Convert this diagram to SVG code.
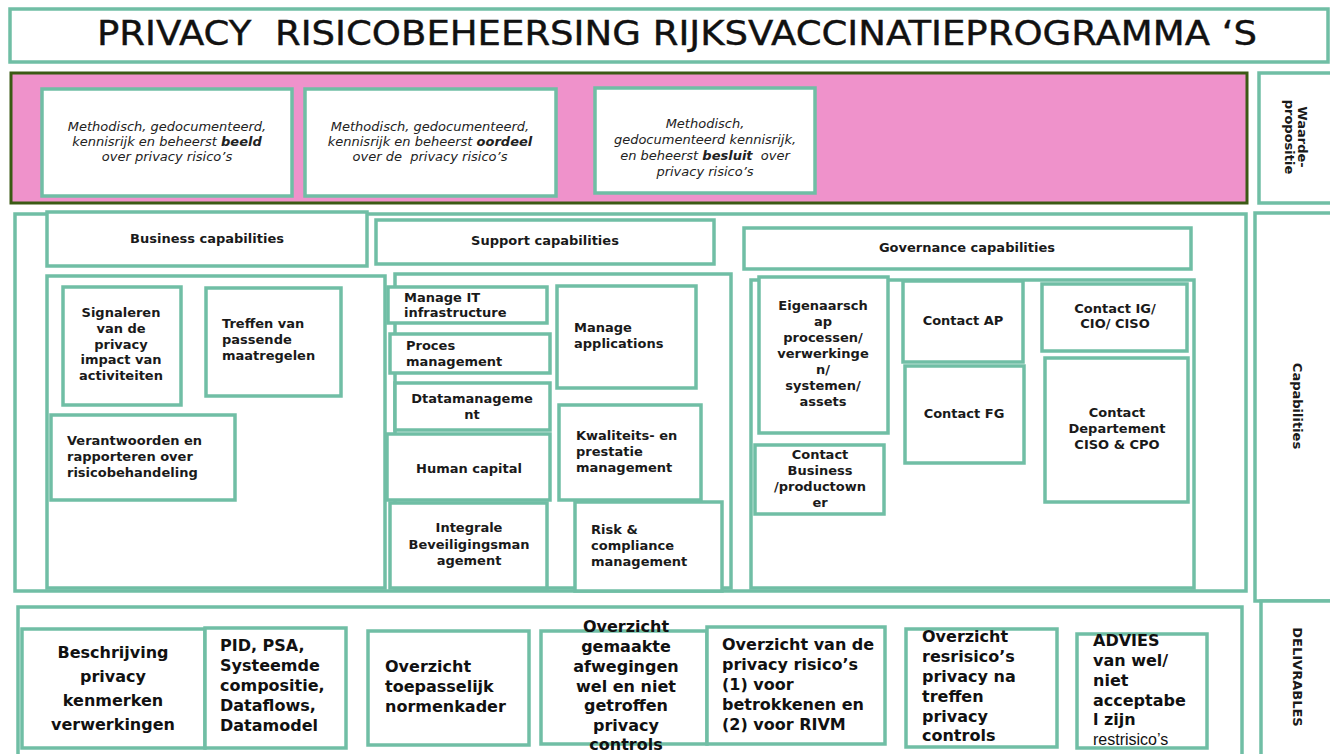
<svg xmlns="http://www.w3.org/2000/svg" width="1330" height="754" viewBox="0 0 1330 754">
<style>
.b{fill:#fff;stroke:#70bea5;stroke-width:3.5}
.t{font-family:"DejaVu Sans",Verdana,sans-serif;font-weight:bold;font-size:13px;fill:#1a1a1a}
.c{text-anchor:middle}
.i{font-family:"DejaVu Sans",Verdana,sans-serif;font-style:italic;font-size:13px;fill:#222;text-anchor:middle}
.d{font-family:"DejaVu Sans",Verdana,sans-serif;font-weight:bold;font-size:16px;fill:#111}
.n{font-family:"Liberation Sans",Arial,sans-serif;font-weight:normal;font-size:16px;fill:#111}
</style>
<rect width="1330" height="754" fill="#fff"/>
<g id="title">
<rect class="b" x="10" y="9" width="1318" height="53"/>
<text x="97" y="45" xml:space="preserve" font-family="DejaVu Sans,Verdana,sans-serif" font-size="33" fill="#111" stroke="#111" stroke-width="0.4" textLength="1160" lengthAdjust="spacingAndGlyphs">PRIVACY  RISICOBEHEERSING RIJKSVACCINATIEPROGRAMMA ‘S</text>
</g>
<g id="waardepropositie">
<rect x="11" y="73" width="1236" height="130" fill="#ef92cb" stroke="#3b5a14" stroke-width="3"/>
<g id="vp1"><rect class="b" x="42" y="89" width="250" height="107"/>
<text class="i" x="167" y="131">Methodisch, gedocumenteerd,</text>
<text class="i" x="167" y="146">kennisrijk en beheerst <tspan font-weight="bold">beeld</tspan></text>
<text class="i" x="167" y="161">over privacy risico’s</text></g>
<g id="vp2"><rect class="b" x="305" y="89" width="251" height="107"/>
<text class="i" x="430" y="131">Methodisch, gedocumenteerd,</text>
<text class="i" x="430" y="146">kennisrijk en beheerst <tspan font-weight="bold">oordeel</tspan></text>
<text class="i" x="430" y="161" xml:space="preserve">over de  privacy risico’s</text></g>
<g id="vp3"><rect class="b" x="595" y="88" width="220" height="105"/>
<text class="i" x="705" y="128">Methodisch,</text>
<text class="i" x="705" y="144">gedocumenteerd kennisrijk,</text>
<text class="i" x="705" y="160" xml:space="preserve">en beheerst <tspan font-weight="bold">besluit</tspan>  over</text>
<text class="i" x="705" y="176">privacy risico’s</text></g>
</g>
<g id="side-labels">
<g id="lbl-waarde"><rect class="b" x="1259" y="73" width="75" height="130"/>
<text class="t c" font-size="11" transform="translate(1295,137) rotate(90)"><tspan x="0" y="-3">Waarde-</tspan><tspan x="0" y="10">propositie</tspan></text></g>
<g id="lbl-cap"><rect class="b" x="1255" y="213" width="79" height="388"/>
<text class="t c" font-size="11.5" transform="translate(1293,406) rotate(90)">Capabilities</text></g>
<g id="lbl-deliv"><rect class="b" x="1261" y="601" width="73" height="160"/>
<text class="t c" font-size="12" transform="translate(1293,677) rotate(90)">DELIVRABLES</text></g>
</g>
<g id="capabilities">
<rect class="b" x="15" y="214" width="1231" height="377"/>
<g id="business">
<rect class="b" x="47" y="276" width="338" height="312"/>
<g id="bc-header"><rect class="b" x="47" y="212" width="320" height="54"/>
<text class="t c" x="207" y="243">Business capabilities</text></g>
<g id="signaleren"><rect class="b" x="63" y="287" width="118" height="118"/>
<text class="t c" x="121" y="317">Signaleren</text><text class="t c" x="121" y="333">van de</text><text class="t c" x="121" y="349">privacy</text><text class="t c" x="121" y="364">impact van</text><text class="t c" x="121" y="380">activiteiten</text></g>
<g id="treffen"><rect class="b" x="206" y="288" width="135" height="108"/>
<text class="t" x="222" y="328">Treffen van</text><text class="t" x="222" y="344">passende</text><text class="t" x="222" y="360">maatregelen</text></g>
<g id="verantwoorden"><rect class="b" x="51" y="415" width="184" height="85"/>
<text class="t" x="67" y="445">Verantwoorden en</text><text class="t" x="67" y="461">rapporteren over</text><text class="t" x="67" y="477">risicobehandeling</text></g>
</g>
<g id="support">
<rect class="b" x="395" y="274" width="336" height="314"/>
<g id="sc-header"><rect class="b" x="376" y="220" width="338" height="44"/>
<text class="t c" x="545" y="245">Support capabilities</text></g>
<g id="manage-it"><rect class="b" x="388" y="287" width="159" height="36"/>
<text class="t" x="404" y="302">Manage IT</text><text class="t" x="404" y="317">infrastructure</text></g>
<g id="proces"><rect class="b" x="390" y="334" width="160" height="39"/>
<text class="t" x="406" y="350">Proces</text><text class="t" x="406" y="366">management</text></g>
<g id="data"><rect class="b" x="395" y="383" width="155" height="47"/>
<text class="t c" x="472" y="403">Dtatamanageme</text><text class="t c" x="472" y="419">nt</text></g>
<g id="human"><rect class="b" x="387" y="434" width="163" height="66"/>
<text class="t c" x="469" y="473">Human capital</text></g>
<g id="integrale"><rect class="b" x="390" y="503" width="157" height="85"/>
<text class="t c" x="469" y="532">Integrale</text><text class="t c" x="469" y="549">Beveiligingsman</text><text class="t c" x="469" y="565">agement</text></g>
<g id="manage-apps"><rect class="b" x="557" y="286" width="139" height="102"/>
<text class="t" x="574" y="332">Manage</text><text class="t" x="574" y="348">applications</text></g>
<g id="kwaliteit"><rect class="b" x="559" y="405" width="142" height="95"/>
<text class="t" x="576" y="440">Kwaliteits- en</text><text class="t" x="576" y="456">prestatie</text><text class="t" x="576" y="472">management</text></g>
<g id="risk"><rect class="b" x="575" y="502" width="147" height="89"/>
<text class="t" x="591" y="534">Risk &amp;</text><text class="t" x="591" y="550">compliance</text><text class="t" x="591" y="566">management</text></g>
</g>
<g id="governance">
<rect class="b" x="751" y="280" width="443" height="308"/>
<g id="gc-header"><rect class="b" x="744" y="228" width="447" height="41"/>
<text class="t c" x="967" y="252">Governance capabilities</text></g>
<g id="eigenaarschap"><rect class="b" x="759" y="277" width="129" height="156"/>
<text class="t c" x="823" y="310">Eigenaarsch</text><text class="t c" x="823" y="326">ap</text><text class="t c" x="823" y="342">processen/</text><text class="t c" x="823" y="358">verwerkinge</text><text class="t c" x="823" y="374">n/</text><text class="t c" x="823" y="390">systemen/</text><text class="t c" x="823" y="406">assets</text></g>
<g id="contact-business"><rect class="b" x="755" y="445" width="129" height="69"/>
<text class="t c" x="820" y="459">Contact</text><text class="t c" x="820" y="475">Business</text><text class="t c" x="820" y="491">/productown</text><text class="t c" x="820" y="507">er</text></g>
<g id="contact-ap"><rect class="b" x="903" y="281" width="120" height="81"/>
<text class="t c" x="963" y="325">Contact AP</text></g>
<g id="contact-fg"><rect class="b" x="905" y="366" width="119" height="97"/>
<text class="t c" x="964" y="418">Contact FG</text></g>
<g id="contact-ig"><rect class="b" x="1042" y="284" width="145" height="67"/>
<text class="t c" x="1115" y="313">Contact IG/</text><text class="t c" x="1115" y="328">CIO/ CISO</text></g>
<g id="contact-dep"><rect class="b" x="1045" y="358" width="143" height="144"/>
<text class="t c" x="1117" y="417">Contact</text><text class="t c" x="1117" y="433">Departement</text><text class="t c" x="1117" y="449">CISO &amp; CPO</text></g>
</g>
</g>
<g id="deliverables">
<rect class="b" x="18" y="607" width="1224" height="150"/>
<g id="beschrijving"><rect class="b" x="22" y="629" width="183" height="119"/>
<text class="d c" font-size="23" x="113" y="658">Beschrijving</text><text class="d c" font-size="23" x="113" y="682">privacy</text><text class="d c" font-size="23" x="113" y="706">kenmerken</text><text class="d c" font-size="23" x="113" y="730">verwerkingen</text></g>
<g id="pid"><rect class="b" x="205" y="628" width="141" height="120"/>
<text class="d" x="220" y="651">PID, PSA,</text><text class="d" x="220" y="671">Systeemde</text><text class="d" x="220" y="691">compositie,</text><text class="d" x="220" y="711">Dataflows,</text><text class="d" x="220" y="731">Datamodel</text></g>
<g id="normenkader"><rect class="b" x="368" y="631" width="161" height="114"/>
<text class="d" x="385" y="672">Overzicht</text><text class="d" x="385" y="692">toepasselijk</text><text class="d" x="385" y="712">normenkader</text></g>
<g id="afwegingen"><rect class="b" x="541" y="631" width="166" height="113"/>
<text class="d c" x="626" y="632">Overzicht</text><text class="d c" x="626" y="652">gemaakte</text><text class="d c" x="626" y="672">afwegingen</text><text class="d c" x="626" y="692">wel en niet</text><text class="d c" x="626" y="711">getroffen</text><text class="d c" x="626" y="731">privacy</text><text class="d c" x="626" y="750">controls</text></g>
<g id="risicos"><rect class="b" x="707" y="627" width="178" height="117"/>
<text class="d" x="722" y="650">Overzicht van de</text><text class="d" x="722" y="670">privacy risico’s</text><text class="d" x="722" y="690">(1) voor</text><text class="d" x="722" y="710">betrokkenen en</text><text class="d" x="722" y="730">(2) voor RIVM</text></g>
<g id="resrisicos"><rect class="b" x="906" y="629" width="151" height="118"/>
<text class="d" x="922" y="642">Overzicht</text><text class="d" x="922" y="662">resrisico’s</text><text class="d" x="922" y="682">privacy na</text><text class="d" x="922" y="702">treffen</text><text class="d" x="922" y="722">privacy</text><text class="d" x="922" y="741">controls</text></g>
<g id="advies"><rect class="b" x="1077" y="634" width="130" height="114"/>
<text class="d" x="1093" y="646">ADVIES</text><text class="d" x="1093" y="666">van wel/</text><text class="d" x="1093" y="686">niet</text><text class="d" x="1093" y="706">acceptabe</text><text class="d" x="1093" y="725">l zijn</text><text class="n" x="1093" y="745">restrisico’s</text></g>
</g>
</svg>
